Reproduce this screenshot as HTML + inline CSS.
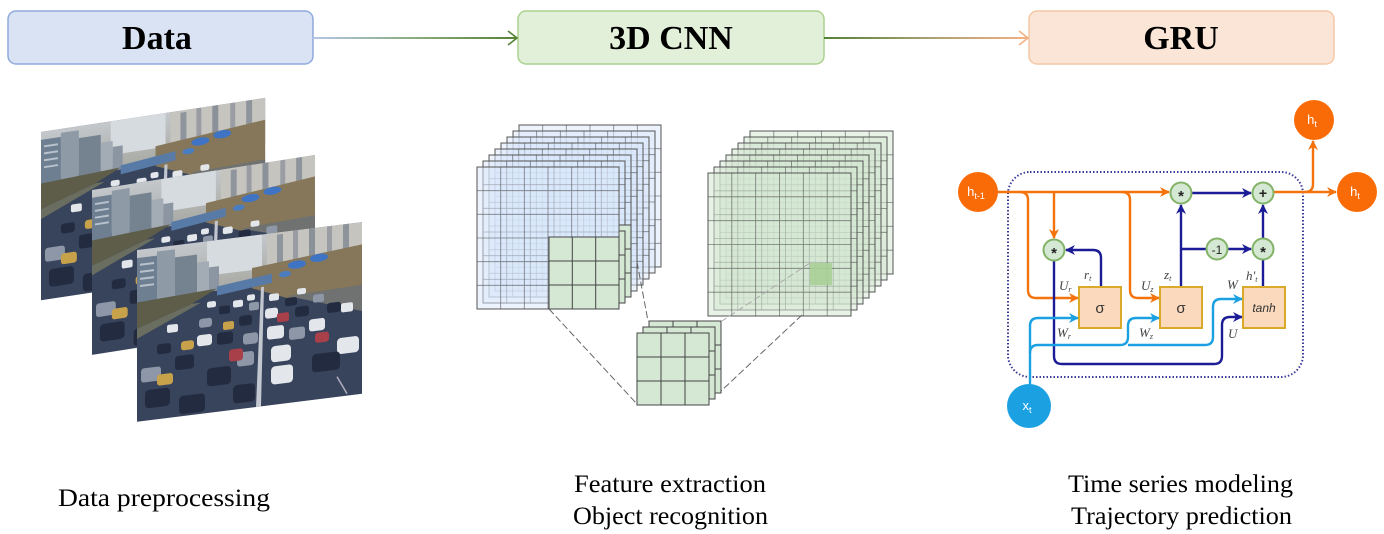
<!DOCTYPE html>
<html><head><meta charset="utf-8"><style>
html,body{margin:0;padding:0;background:#fff;width:1384px;height:534px;overflow:hidden}
svg{display:block}
</style></head><body>
<svg width="1384" height="534" viewBox="0 0 1384 534" xmlns="http://www.w3.org/2000/svg">
<defs>
<linearGradient id="g1" gradientUnits="userSpaceOnUse" x1="313" y1="0" x2="518" y2="0"><stop offset="0" stop-color="#b4c7e7"/><stop offset="0.5" stop-color="#8aab7c"/><stop offset="1" stop-color="#548235"/></linearGradient>
<linearGradient id="g2" gradientUnits="userSpaceOnUse" x1="824" y1="0" x2="1029" y2="0"><stop offset="0" stop-color="#548235"/><stop offset="0.5" stop-color="#a8a070"/><stop offset="1" stop-color="#f4b183"/></linearGradient>
<linearGradient id="sky" x1="0" y1="0" x2="0" y2="1"><stop offset="0" stop-color="#c4c8cc"/><stop offset="1" stop-color="#a9aaa4"/></linearGradient>
<marker id="mo" viewBox="0 0 10 10" refX="9" refY="5" markerWidth="11" markerHeight="10" markerUnits="userSpaceOnUse" orient="auto"><path d="M0,0L10,5L0,10L3,5z" fill="#f5730c"/></marker>
<marker id="mn" viewBox="0 0 10 10" refX="9" refY="5" markerWidth="11" markerHeight="10" markerUnits="userSpaceOnUse" orient="auto"><path d="M0,0L10,5L0,10L3,5z" fill="#1c1c96"/></marker>
<marker id="mb" viewBox="0 0 10 10" refX="9" refY="5" markerWidth="11" markerHeight="10" markerUnits="userSpaceOnUse" orient="auto"><path d="M0,0L10,5L0,10L3,5z" fill="#1ba1e2"/></marker>
<g id="ph">
<rect width="225" height="170" fill="#38435c"/>
<rect width="225" height="48" fill="url(#sky)"/>
<rect x="70" y="0" width="55" height="34" fill="#d6dbe0"/>
<rect x="0" y="8" width="20" height="46" fill="#6f7f92"/>
<rect x="3" y="14" width="14" height="2" fill="#b8c2cc"/><rect x="3" y="21" width="14" height="2" fill="#b8c2cc"/><rect x="3" y="28" width="14" height="2" fill="#b8c2cc"/><rect x="3" y="35" width="14" height="2" fill="#b8c2cc"/>
<rect x="20" y="4" width="18" height="48" fill="#8f9aa7"/>
<rect x="38" y="12" width="22" height="40" fill="#75828f"/>
<rect x="60" y="20" width="12" height="30" fill="#a3abb4"/>
<rect x="72" y="26" width="10" height="24" fill="#8c96a2"/>
<rect x="130" y="0" width="95" height="40" fill="#c6c4be"/>
<rect x="140" y="2" width="6" height="34" fill="#8f959d"/><rect x="156" y="0" width="5" height="34" fill="#999da3"/><rect x="172" y="0" width="6" height="32" fill="#8b9199"/><rect x="190" y="0" width="5" height="32" fill="#9a9ea4"/><rect x="206" y="0" width="6" height="30" fill="#8e949c"/>
<path d="M115,32 L225,22 L225,64 L150,66 L115,52z" fill="#86775a"/>
<path d="M80,46 L135,40 L135,49 L80,55z" fill="#587aa6"/>
<ellipse cx="160" cy="34" rx="9" ry="4" fill="#3f74c4"/><ellipse cx="182" cy="30" rx="9" ry="4" fill="#3f74c4"/><ellipse cx="148" cy="42" rx="6" ry="3" fill="#4a7cc0"/>
<path d="M0,52 L80,48 L55,60 L0,78z" fill="#5d5d4a"/>
<path d="M0,78 L55,60 L64,60 L0,88z" fill="#6a6e60"/>
<path d="M150,64 L225,62 L225,88z" fill="#6f7270"/>
<path d="M124,52 L127,52 L124,170 L119,170z" fill="#c3c7cf"/>
<g fill="#e3e6eb"><rect x="70" y="60" width="9" height="6" rx="2"/><rect x="96" y="62" width="10" height="7" rx="2"/><rect x="132" y="60" width="10" height="7" rx="2"/><rect x="128" y="74" width="13" height="10" rx="3"/><rect x="60" y="92" width="15" height="11" rx="3"/><rect x="130" y="92" width="17" height="13" rx="3"/><rect x="172" y="90" width="16" height="12" rx="3"/><rect x="134" y="112" width="20" height="16" rx="4"/><rect x="200" y="112" width="22" height="16" rx="4"/><rect x="110" y="58" width="8" height="6" rx="2"/><rect x="134" y="132" width="22" height="18" rx="4"/><rect x="30" y="78" width="11" height="8" rx="2"/><rect x="160" y="58" width="9" height="6" rx="2"/><rect x="204" y="78" width="12" height="9" rx="2"/></g>
<g fill="#222b40"><rect x="82" y="66" width="11" height="8" rx="2"/><rect x="148" y="66" width="12" height="8" rx="2"/><rect x="80" y="92" width="16" height="12" rx="3"/><rect x="38" y="110" width="19" height="14" rx="3"/><rect x="70" y="126" width="24" height="18" rx="4"/><rect x="175" y="125" width="28" height="18" rx="4"/><rect x="8" y="140" width="25" height="18" rx="4"/><rect x="158" y="76" width="14" height="10" rx="3"/><rect x="190" y="76" width="14" height="10" rx="3"/><rect x="102" y="78" width="13" height="10" rx="3"/><rect x="42" y="150" width="26" height="18" rx="4"/><rect x="96" y="146" width="22" height="18" rx="4"/><rect x="20" y="96" width="14" height="10" rx="3"/></g>
<g fill="#8d97a8"><rect x="112" y="66" width="10" height="8" rx="2"/><rect x="62" y="76" width="13" height="9" rx="3"/><rect x="106" y="96" width="15" height="11" rx="3"/><rect x="152" y="96" width="16" height="12" rx="3"/><rect x="100" y="114" width="17" height="14" rx="3"/><rect x="4" y="118" width="20" height="14" rx="3"/><rect x="176" y="66" width="11" height="8" rx="2"/></g>
<g fill="#a8404a"><rect x="92" y="110" width="14" height="12" rx="3"/><rect x="140" y="80" width="12" height="9" rx="2"/><rect x="178" y="104" width="14" height="10" rx="3"/></g>
<g fill="#c7a24a"><rect x="44" y="96" width="13" height="9" rx="3"/><rect x="20" y="126" width="16" height="11" rx="3"/><rect x="86" y="82" width="11" height="8" rx="2"/></g>
<path d="M200,150 L210,168" stroke="#aab" stroke-width="1.5"/>
</g>
<clipPath id="kc"><rect x="619" y="200" width="40" height="120"/></clipPath>
<g id="L"><rect width="142" height="142" fill="#dae8fc" fill-opacity="0.5" stroke="#555" stroke-width="1"/><path d="M23.7,0V142M47.3,0V142M71,0V142M94.7,0V142M118.3,0V142M0,23.7H142M0,47.3H142M0,71H142M0,94.7H142M0,118.3H142" stroke="#444" stroke-width="0.8" stroke-opacity="0.65" fill="none"/></g>
<g id="R"><rect width="143" height="143" fill="#d5e8d4" fill-opacity="0.55" stroke="#555" stroke-width="1"/><path d="M23.8,0V143M47.7,0V143M71.5,0V143M95.3,0V143M119.2,0V143M0,23.8H143M0,47.7H143M0,71.5H143M0,95.3H143M0,119.2H143" stroke="#444" stroke-width="0.8" stroke-opacity="0.65" fill="none"/></g>
<g id="K"><rect width="70" height="72" fill="#d5e8d4" stroke="#444" stroke-width="1"/><path d="M23.3,0V72M46.7,0V72M0,24H70M0,48H70" stroke="#444" stroke-width="1" fill="none"/></g>
<g id="S"><rect width="72" height="72" fill="#d5e8d4" stroke="#444" stroke-width="1"/><path d="M24,0V72M48,0V72M0,24H72M0,48H72" stroke="#444" stroke-width="1" fill="none"/></g>
</defs>

<!-- header -->
<rect x="8" y="11" width="305" height="53" rx="8" fill="#dae3f3" stroke="#8faadc" stroke-width="1.5"/>
<rect x="518" y="11" width="306" height="53" rx="8" fill="#e2f0d9" stroke="#a9d18e" stroke-width="1.5"/>
<rect x="1029" y="11" width="305" height="53" rx="8" fill="#fbe5d6" stroke="#f4c7a5" stroke-width="1.5"/>
<line x1="313" y1="38" x2="517" y2="38" stroke="url(#g1)" stroke-width="2"/>
<path d="M508,31 L517,38 L508,45" fill="none" stroke="#548235" stroke-width="1.6"/>
<line x1="824" y1="38" x2="1028" y2="38" stroke="url(#g2)" stroke-width="2"/>
<path d="M1019,31 L1028,38 L1019,45" fill="none" stroke="#f4b183" stroke-width="1.6"/>
<g font-family="Liberation Serif, serif" font-weight="bold" font-size="34" text-anchor="middle" fill="#000">
<text x="157" y="49">Data</text>
<text x="671" y="49">3D CNN</text>
<text x="1181" y="49">GRU</text>
</g>

<!-- photos -->
<g transform="matrix(1,-0.152,0,1,41,132)"><use href="#ph" transform="scale(0.996,0.99)"/></g>
<g transform="matrix(1,-0.157,0,1,92,190)"><use href="#ph" transform="scale(0.991,0.97)"/></g>
<g transform="matrix(1,-0.124,0,1,137,250)"><use href="#ph" transform="scale(1,1.01)"/></g>

<!-- CNN left cube -->
<use href="#L" x="519" y="125"/><use href="#L" x="513" y="131"/><use href="#L" x="507" y="137"/><use href="#L" x="501" y="143"/><use href="#L" x="495" y="149"/><use href="#L" x="489" y="155"/><use href="#L" x="483" y="161"/>
<g clip-path="url(#kc)"><use href="#K" x="561" y="225"/><use href="#K" x="555" y="231"/></g>
<use href="#L" x="477" y="167"/>
<use href="#K" x="549" y="237"/>
<!-- right cube -->
<use href="#R" x="750" y="131"/><use href="#R" x="744" y="137"/><use href="#R" x="738" y="143"/><use href="#R" x="732" y="149"/><use href="#R" x="726" y="155"/><use href="#R" x="720" y="161"/><use href="#R" x="714" y="167"/><use href="#R" x="708" y="173"/>
<rect x="810" y="263" width="22" height="22" fill="#a9cf96" fill-opacity="0.9"/>
<!-- dashed lines -->
<g stroke="#666" stroke-width="1" stroke-dasharray="7,3" fill="none">
<line x1="549" y1="309" x2="637" y2="404"/>
<line x1="637" y1="262" x2="648" y2="321"/>
<line x1="802" y1="315" x2="720" y2="392"/>
</g>
<line x1="810" y1="263" x2="722" y2="321" stroke="#aaa" stroke-width="1" stroke-dasharray="7,3"/>
<!-- small cube -->
<use href="#S" x="649" y="321"/><use href="#S" x="643" y="327"/><use href="#S" x="637" y="333"/>

<!-- GRU -->
<rect x="1008" y="172" width="295" height="205" rx="22" fill="none" stroke="#3d3d99" stroke-width="2" stroke-dasharray="1.5,2"/>
<g fill="none" stroke-width="2.4" stroke-linejoin="round">
<g stroke="#f5730c">
<path d="M995,192 H1169" marker-end="url(#mo)"/>
<path d="M1020,192 Q1028,192 1028,200 V290 Q1028,298 1036,298 H1078" marker-end="url(#mo)"/>
<path d="M1054,192 V238" marker-end="url(#mo)"/>
<path d="M1122,192 Q1130,192 1130,200 V290 Q1130,298 1138,298 H1159" marker-end="url(#mo)"/>
<path d="M1274,192 H1336" marker-end="url(#mo)"/>
<path d="M1305,192 Q1313,192 1313,184 V141" marker-end="url(#mo)"/>
</g>
<g stroke="#1c1c96">
<path d="M1192,193 H1251" marker-end="url(#mn)"/>
<path d="M1181,287 V205" marker-end="url(#mn)"/>
<path d="M1181,249 H1207"/>
<path d="M1228,249 H1251" marker-end="url(#mn)"/>
<path d="M1263,287 V260"/>
<path d="M1263,238 V205" marker-end="url(#mn)"/>
<path d="M1101,287 V258 Q1101,250 1093,250 H1066" marker-end="url(#mn)"/>
<path d="M1054,261 V356 Q1054,364 1062,364 H1214 Q1222,364 1222,356 V325 Q1222,317 1230,317 H1242" marker-end="url(#mn)"/>
</g>
<g stroke="#1ba1e2">
<path d="M1030,386 V326 Q1030,318 1038,318 H1078" marker-end="url(#mb)"/>
<path d="M1030,353 Q1030,345 1038,345 H1120 Q1128,345 1128,337 V326 Q1128,318 1136,318 H1159" marker-end="url(#mb)"/>
<path d="M1128,345 H1205 Q1213,345 1213,337 V307 Q1213,299 1221,299 H1242" marker-end="url(#mb)"/>
</g>
</g>
<g fill="#fbd9bd" stroke="#d9a92a" stroke-width="2">
<rect x="1079" y="287" width="42" height="41"/>
<rect x="1160" y="287" width="42" height="41"/>
<rect x="1243" y="287" width="42" height="41"/>
</g>
<g font-family="Liberation Sans, DejaVu Sans, sans-serif" fill="#333" text-anchor="middle">
<text x="1100" y="313" font-size="15">σ</text>
<text x="1181" y="313" font-size="15">σ</text>
<text x="1264" y="312" font-size="12" font-style="italic">tanh</text>
</g>
<g fill="#d5e8d4" stroke="#82b366" stroke-width="2">
<circle cx="1054" cy="250" r="10.5"/>
<circle cx="1181" cy="193" r="10.5"/>
<circle cx="1263" cy="193" r="10.5"/>
<circle cx="1217" cy="249" r="10.5"/>
<circle cx="1263" cy="249" r="10.5"/>
</g>
<g font-family="Liberation Sans, DejaVu Sans, sans-serif" fill="#222" text-anchor="middle" font-weight="bold">
<text x="1054" y="258" font-size="15">*</text>
<text x="1181" y="201" font-size="15">*</text>
<text x="1263" y="198" font-size="14">+</text>
<text x="1217" y="254" font-size="12" font-weight="normal">-1</text>
<text x="1263" y="257" font-size="15">*</text>
</g>
<circle cx="978" cy="192" r="20" fill="#f96b06"/>
<circle cx="1357" cy="192" r="20" fill="#f96b06"/>
<circle cx="1314" cy="120" r="20" fill="#f96b06"/>
<circle cx="1029" cy="406" r="22" fill="#1ba1e2"/>
<g font-family="Liberation Sans, DejaVu Sans, sans-serif" fill="#fff" font-size="13" text-anchor="middle">
<text x="976" y="196">h<tspan font-size="9" dy="3">t-1</tspan></text>
<text x="1355" y="196">h<tspan font-size="9" dy="3">t</tspan></text>
<text x="1312" y="124">h<tspan font-size="9" dy="3">t</tspan></text>
<text x="1027" y="410">x<tspan font-size="9" dy="3">t</tspan></text>
</g>
<g font-family="Liberation Serif, serif" font-style="italic" fill="#444" font-size="13">
<text x="1059" y="290">U<tspan font-size="8" dy="2">r</tspan></text>
<text x="1084" y="279">r<tspan font-size="8" dy="2">t</tspan></text>
<text x="1141" y="290">U<tspan font-size="8" dy="2">z</tspan></text>
<text x="1164" y="279">z<tspan font-size="8" dy="2">t</tspan></text>
<text x="1227" y="289">W</text>
<text x="1246" y="280">h'<tspan font-size="8" dy="2">t</tspan></text>
<text x="1057" y="337">W<tspan font-size="8" dy="2">r</tspan></text>
<text x="1139" y="337">W<tspan font-size="8" dy="2">z</tspan></text>
<text x="1228" y="338">U</text>
</g>

<g font-family="Liberation Serif, serif" font-size="25" fill="#000">
<text x="58" y="506" textLength="212" lengthAdjust="spacingAndGlyphs">Data preprocessing</text>
<text x="574" y="492" textLength="192" lengthAdjust="spacingAndGlyphs">Feature extraction</text>
<text x="573" y="524" textLength="195" lengthAdjust="spacingAndGlyphs">Object recognition</text>
<text x="1068" y="492" textLength="225" lengthAdjust="spacingAndGlyphs">Time series modeling</text>
<text x="1071" y="524" textLength="221" lengthAdjust="spacingAndGlyphs">Trajectory prediction</text>
</g>
</svg>
</body></html>
